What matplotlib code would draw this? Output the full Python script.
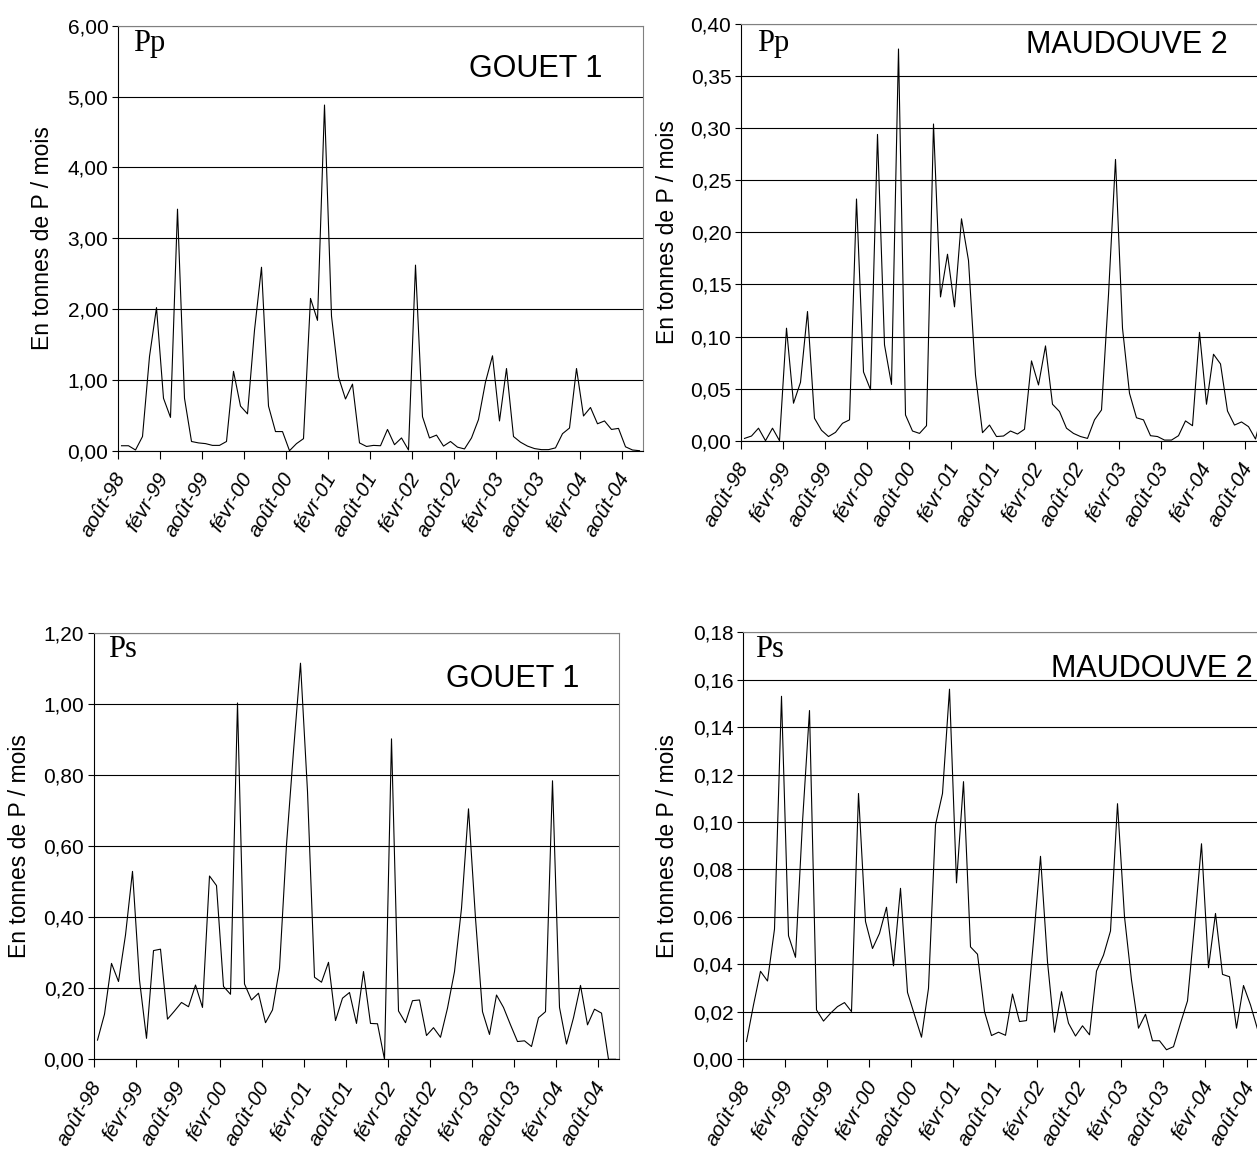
import numpy as np
import matplotlib
matplotlib.use('Agg')
import matplotlib.pyplot as plt
import matplotlib.transforms as mtransforms
from matplotlib import font_manager
from matplotlib.ticker import FuncFormatter

# Monthly loads, août-98 .. oct-04 (75 months), tonnes de P / mois
gouet_pp = [0.07, 0.07, 0.01, 0.20, 1.33, 2.02, 0.74, 0.47, 3.41, 0.74,
            0.13, 0.11, 0.10, 0.075, 0.075, 0.13, 1.12, 0.63, 0.52, 1.70,
            2.59, 0.63, 0.27, 0.27, 0.00, 0.10, 0.17, 2.15, 1.84, 4.88,
            1.90, 1.04, 0.73, 0.94, 0.11, 0.06, 0.075, 0.07, 0.30, 0.085,
            0.18, 0.01, 2.62, 0.48, 0.18, 0.22, 0.065, 0.13, 0.05, 0.025,
            0.18, 0.44, 0.97, 1.34, 0.42, 1.16, 0.20, 0.12, 0.065, 0.03,
            0.015, 0.015, 0.04, 0.24, 0.32, 1.16, 0.49, 0.61, 0.38, 0.42,
            0.30, 0.315, 0.055, 0.01, 0.00]

maud_pp = [0.0022, 0.0045, 0.012, 0.0, 0.012, 0.0, 0.108, 0.036, 0.056, 0.124,
           0.0215, 0.010, 0.004, 0.008, 0.0167, 0.020, 0.232, 0.066, 0.049, 0.294,
           0.092, 0.054, 0.376, 0.0247, 0.0093, 0.007, 0.0144, 0.304, 0.138, 0.179,
           0.1285, 0.213, 0.173, 0.063, 0.0077, 0.015, 0.004, 0.0045, 0.0093, 0.0064,
           0.011, 0.0766, 0.0535, 0.091, 0.035, 0.028, 0.012, 0.007, 0.004, 0.0022,
           0.020, 0.0295, 0.14, 0.27, 0.108, 0.0455, 0.022, 0.020, 0.0048, 0.004,
           0.0006, 0.0006, 0.0048, 0.019, 0.0144, 0.104, 0.035, 0.083, 0.0737, 0.0285,
           0.015, 0.018, 0.0135, 0.0016, 0.028]

gouet_ps = [0.054, 0.127, 0.27, 0.219, 0.35, 0.529, 0.223, 0.059, 0.306, 0.31,
            0.113, 0.136, 0.16, 0.148, 0.209, 0.146, 0.516, 0.489, 0.205, 0.183,
            1.003, 0.212, 0.167, 0.186, 0.103, 0.139, 0.256, 0.604, 0.867, 1.115,
            0.754, 0.231, 0.217, 0.273, 0.109, 0.172, 0.188, 0.101, 0.247, 0.101,
            0.10, 0.0, 0.902, 0.136, 0.103, 0.165, 0.167, 0.067, 0.089, 0.062,
            0.144, 0.247, 0.425, 0.705, 0.397, 0.134, 0.07, 0.181, 0.146, 0.097,
            0.05, 0.052, 0.036, 0.117, 0.134, 0.784, 0.146, 0.043, 0.117, 0.208,
            0.097, 0.141, 0.13, 0.0, 0.0]

maud_ps = [0.0074, 0.0228, 0.037, 0.0329, 0.0548, 0.153, 0.052, 0.0429, 0.10, 0.147,
           0.0207, 0.016, 0.0193, 0.0221, 0.0238, 0.020, 0.112, 0.058, 0.0466, 0.053,
           0.064, 0.0393, 0.072, 0.0281, 0.0186, 0.0092, 0.0298, 0.0988, 0.112, 0.156,
           0.0743, 0.117, 0.0473, 0.0442, 0.020, 0.0099, 0.0113, 0.010, 0.0274, 0.0158,
           0.0162, 0.05, 0.0855, 0.041, 0.0113, 0.0284, 0.0151, 0.0097, 0.014, 0.0102,
           0.0371, 0.0438, 0.054, 0.1077, 0.06, 0.0333, 0.013, 0.0189, 0.0077, 0.0077,
           0.0039, 0.0052, 0.0151, 0.0245, 0.0565, 0.0908, 0.0385, 0.0614, 0.0357, 0.0347,
           0.013, 0.031, 0.0228, 0.0126, 0.07]

month_labels = ['août-98', 'févr-99', 'août-99', 'févr-00', 'août-00', 'févr-01',
                'août-01', 'févr-02', 'août-02', 'févr-03', 'août-03', 'févr-04',
                'août-04']

ylabel = 'En tonnes de P / mois'

W, H = 1257, 1160
fig = plt.figure(figsize=(W / 100, H / 100), dpi=100)

names = {f.name for f in font_manager.fontManager.ttflist}
narrow = 'Liberation Sans Narrow' if 'Liberation Sans Narrow' in names else 'Liberation Sans'


def px_rect(left, top, bottom, width=525):
    return [left / W, 1 - bottom / H, width / W, (bottom - top) / H]


def fr(x, y):
    return x / W, 1 - y / H


# rect, data, ymax, step, tag, tag pos, site, site pos, ylabel x
panels = [
    (px_rect(118, 25.7, 450.7), gouet_pp, 6.0, 1.0, 'Pp', (133, 51), 'GOUET 1', (602, 77), 43),
    (px_rect(741, 24, 440.7), maud_pp, 0.40, 0.05, 'Pp', (757, 51), 'MAUDOUVE 2', (1228, 53), 668),
    (px_rect(94, 633, 1059.3), gouet_ps, 1.20, 0.20, 'Ps', (108, 657), 'GOUET 1', (579, 687), 20),
    (px_rect(743, 632.3, 1059), maud_ps, 0.18, 0.02, 'Ps', (755, 657), 'MAUDOUVE 2', (1253, 677), 668),
]

comma = FuncFormatter(lambda v, p: f'{v:.2f}'.replace('.', ','))
shift = mtransforms.ScaledTranslation(-9 / 100, 0, fig.dpi_scale_trans)

for rect, vals, ymax, step, tag, tpos, site, spos, ylx in panels:
    ax = fig.add_axes(rect)
    x = np.arange(len(vals))
    ax.plot(x, vals, color='black', lw=0.8)

    ax.set_xlim(-0.5, len(vals) - 0.5)
    ax.set_ylim(0, ymax)
    ax.set_yticks(np.arange(0, ymax + step / 2, step))
    ax.yaxis.set_major_formatter(comma)
    ax.yaxis.grid(True, color='black', lw=0.8)
    ax.set_axisbelow(True)

    # ticks between categories, labels on category centres
    ax.set_xticks(np.arange(-0.5, len(vals), 6))
    ax.set_xticklabels([])
    ax.set_xticks(np.arange(0, len(vals), 6), minor=True)
    ax.set_xticklabels(month_labels, minor=True, rotation=60, ha='right', va='center',
                       rotation_mode='anchor', fontsize=15, style='italic',
                       family='Liberation Sans')
    for lab in ax.get_xticklabels(minor=True):
        lab.set_transform(lab.get_transform() + shift)
    ax.tick_params(axis='x', which='major', length=6, width=0.8, direction='out')
    ax.tick_params(axis='x', which='minor', length=0, pad=17)
    ax.tick_params(axis='y', length=4, width=0.8, direction='out', pad=3)
    for lab in ax.get_yticklabels():
        lab.set_family(narrow)
        lab.set_fontsize(15)

    for side in ('top', 'right'):
        ax.spines[side].set_color('#808080')
        ax.spines[side].set_linewidth(0.8)
    for side in ('left', 'bottom'):
        ax.spines[side].set_color('black')
        ax.spines[side].set_linewidth(0.8)

    fig.text(*fr(*tpos), tag, ha='left', va='baseline', fontsize=22,
             family='Liberation Serif')
    fig.text(*fr(*spos), site, ha='right', va='baseline', fontsize=22,
             family='Liberation Sans')
    ycen = H - (rect[1] + rect[3] / 2) * H
    fig.text(*fr(ylx, ycen), ylabel, rotation=90, ha='center', va='center',
             fontsize=16.5, family='Liberation Sans')

fig.savefig('out.png', dpi=100)
